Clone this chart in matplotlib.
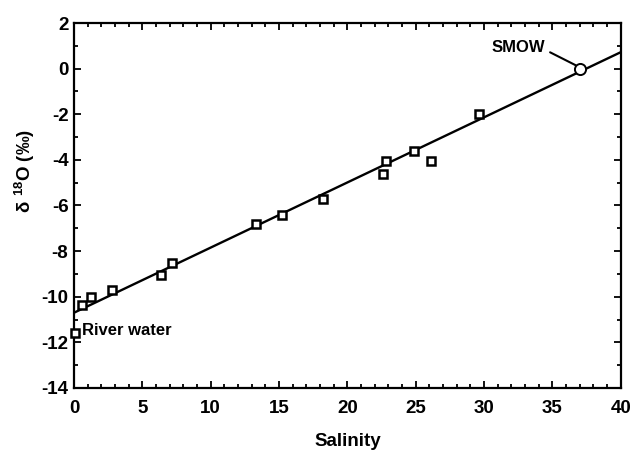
from matplotlib import pyplot as plt
from matplotlib.ticker import MultipleLocator

# data
salinity = [0.05, 0.55, 1.25, 2.8, 6.4, 7.2, 13.35, 15.2, 18.2, 22.6, 22.8, 24.9, 26.1, 29.6]
d18o = [-11.6, -10.35, -10.0, -9.7, -9.05, -8.5, -6.8, -6.4, -5.7, -4.6, -4.05, -3.6, -4.05, -2.0]
smow_x = [37.0]
smow_y = [0.0]
fit_x = [0, 40]
fit_y = [-10.7, 0.72]

plt.rcParams['font.family'] = ['Liberation Sans', 'DejaVu Sans']
plt.rcParams['font.weight'] = 'bold'
plt.rcParams['axes.unicode_minus'] = False
plt.rcParams['mathtext.fontset'] = 'custom'
plt.rcParams['mathtext.rm'] = 'Liberation Sans:bold'
plt.rcParams['mathtext.it'] = 'Liberation Sans:bold'
plt.rcParams['mathtext.bf'] = 'Liberation Sans:bold'

fig = plt.figure(figsize=(6.31, 4.51), dpi=100)
ax = fig.add_axes([0.1173, 0.1397, 0.8664, 0.8093])

ax.plot(fit_x, fit_y, color='black', linewidth=1.7, zorder=2)
ax.plot(salinity, d18o, linestyle='none', marker='s', markersize=5.5, clip_on=False,
        markerfacecolor='white', markeredgecolor='black', markeredgewidth=1.8, zorder=3)
ax.plot(smow_x, smow_y, linestyle='none', marker='o', markersize=8,
        markerfacecolor='white', markeredgecolor='black', markeredgewidth=1.4, zorder=4)

ax.annotate('SMOW', xy=(smow_x[0] - 0.3, smow_y[0] + 0.15), xytext=(34.45, 0.93),
            ha='right', va='center', fontsize=12, fontweight='bold',
            arrowprops=dict(arrowstyle='-', color='black', lw=1.5, shrinkA=2, shrinkB=0,
                            relpos=(1.0, 0.35)))
ax.text(0.62, -11.5, 'River water', ha='left', va='center', fontsize=12, fontweight='bold')

ax.set_xlim(0, 40)
ax.set_ylim(-14, 2)
ax.xaxis.set_major_locator(MultipleLocator(5))
ax.xaxis.set_minor_locator(MultipleLocator(1))
ax.yaxis.set_major_locator(MultipleLocator(2))
ax.yaxis.set_minor_locator(MultipleLocator(1))
ax.tick_params(which='both', direction='in', top=True, right=True, width=1.3,
               labelsize=13.5)
ax.tick_params(which='major', length=5)
ax.tick_params(which='minor', length=3)
ax.tick_params(axis='x', which='major', pad=9)
ax.tick_params(axis='y', which='major', pad=4)
for lab in ax.get_xticklabels() + ax.get_yticklabels():
    lab.set_fontweight('bold')
for sp in ax.spines.values():
    sp.set_linewidth(1.6)

ax.set_xlabel('Salinity', fontsize=13.5, fontweight='bold', labelpad=11)
fig.text(0.04, 0.62, r'$\delta\ ^{18}$O (‰)', rotation=90, ha='center', va='center',
         fontsize=13.5, fontweight='bold')

plt.savefig('out.png', dpi=100)
